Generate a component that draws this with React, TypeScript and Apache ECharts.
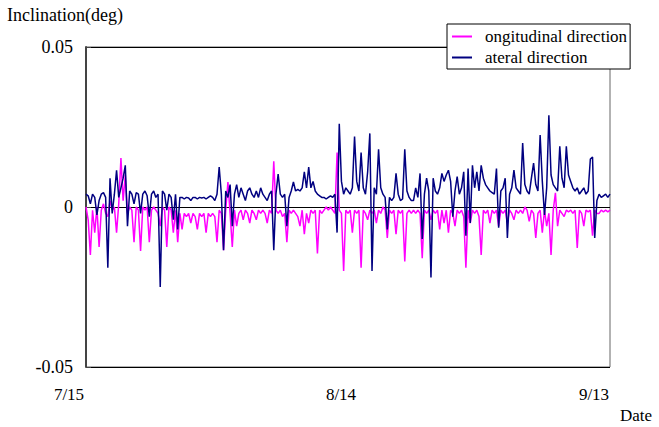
import React, { useEffect, useRef } from "react";
import * as echarts from "echarts";

// 6-hour steps from 7/15 (index 0) to 9/13 (index 240)
const tickLabels: Record<number, string> = { 0: "7/15", 120: "8/14", 240: "9/13" };
const seriesNames = ["ongitudinal direction", "ateral direction"];

// longitudinal direction (magenta), deg
const longitudinal = [
  0, -0.004, -0.015, -0.001, -0.008, 0, -0.0125, -0.001, 0.001, -0.002,
  -0.003, 0.002, -0.001, 0, -0.008, 0.001, 0.0153, 0.002, 0.01, -0.002,
  0, -0.001, -0.011, 0, -0.001, -0.0137, 0, -0.001, 0, -0.011,
  -0.001, 0, -0.001, -0.002, -0.006, 0, -0.001, -0.0125, 0, -0.001,
  -0.008, -0.001, -0.011, -0.002, -0.007, -0.002, -0.003, -0.002, -0.005, -0.002,
  -0.003, -0.007, -0.002, -0.003, -0.002, -0.008, -0.002, -0.003, -0.002, -0.003,
  -0.011, -0.001, -0.002, -0.0135, -0.001, 0.0078, -0.002, -0.0125, -0.001, -0.006,
  -0.002, -0.001, -0.004, -0.001, -0.002, -0.005, -0.001, -0.002, -0.004, -0.001,
  -0.002, -0.001, -0.002, -0.005, -0.001, -0.002, 0.0143, -0.001, -0.002, -0.001,
  -0.003, -0.002, -0.011, -0.001, -0.002, -0.001, -0.002, -0.003, -0.006, -0.001,
  -0.0085, -0.002, -0.005, -0.001, -0.002, -0.001, -0.0145, -0.001, -0.002, -0.001,
  0, -0.001, 0, -0.001, -0.002, 0.017, -0.001, -0.002, -0.02, -0.001,
  -0.002, -0.001, -0.008, -0.001, -0.002, -0.001, -0.019, -0.001, -0.002, -0.004,
  -0.001, -0.002, -0.001, -0.005, -0.001, -0.002, 0, -0.001, -0.0097, -0.001,
  -0.002, -0.001, -0.0085, -0.001, -0.002, -0.001, -0.017, -0.002, -0.001, -0.002,
  -0.001, -0.002, -0.001, -0.002, -0.016, -0.001, -0.002, -0.001, -0.004, -0.001,
  -0.002, -0.001, -0.007, -0.001, -0.005, -0.001, -0.008, -0.001, -0.002, -0.006,
  -0.001, -0.002, -0.001, -0.003, -0.019, -0.001, -0.005, -0.001, -0.002, -0.001,
  -0.003, -0.015, -0.001, -0.002, -0.001, -0.005, -0.001, -0.002, -0.001, -0.006,
  -0.001, -0.002, -0.001, -0.005, -0.001, -0.002, -0.004, -0.001, -0.002, -0.001,
  -0.002, 0, -0.001, -0.0045, -0.001, -0.002, -0.0097, -0.002, -0.001, -0.008,
  -0.001, -0.006, -0.002, -0.015, -0.001, 0.0044, -0.006, -0.001, -0.002, -0.003,
  -0.001, -0.0015, -0.001, -0.002, -0.001, -0.0128, -0.001, -0.002, -0.006, -0.001,
  -0.0015, -0.001, -0.009, -0.001, -0.002, -0.002, -0.001, -0.0015, -0.001, -0.0015,
  -0.001,
];

// lateral direction (navy), deg
const lateral = [
  0.004, 0.0035, 0.001, 0.004, 0.003, -0.0025, 0.002, 0.004, 0.0045, 0.003,
  -0.019, 0.009, -0.002, 0.004, 0.0115, 0.003, 0.006, 0.009, 0.013, -0.006,
  0.005, 0.004, 0.001, 0.0045, 0.004, -0.002, 0.004, 0.005, 0.0035, -0.003,
  0.004, 0.005, 0.003, 0.004, -0.025, 0.005, 0.004, -0.001, 0.004, 0.003,
  -0.004, 0.004, -0.007, 0.003, 0.003, 0.0025, 0.003, 0.0028, 0.002, 0.003,
  0.003, 0.0025, 0.003, 0.0028, 0.003, 0.0025, 0.003, 0.0035, 0.003, 0.002,
  0.004, 0.0125, 0.004, -0.0135, 0.005, 0.003, 0.007, -0.006, 0.004, 0.007,
  0.003, 0.006, 0.004, 0.002, 0.005, 0.006, 0.004, 0.003, 0.005, 0.003,
  0.006, 0.004, 0.003, 0.002, 0.004, 0.005, -0.0135, 0.004, 0.0103, 0.004,
  0.003, 0.004, -0.006, 0.003, 0.005, 0.0078, 0.005, 0.0055, 0.005, 0.006,
  0.011, 0.006, 0.0125, 0.006, 0.008, 0.005, 0.004, 0.0035, 0.003, 0.003,
  0.0025, 0.003, 0.0035, 0.003, 0.004, -0.008, 0.026, 0.008, 0.004, 0.006,
  0.005, 0.004, 0.006, 0.022, 0.008, 0.005, 0.017, 0.006, 0.004, 0.011,
  0.023, -0.02, 0.006, 0.004, 0.018, 0.006, 0.004, 0.003, -0.007, 0.003,
  0.002, 0.003, 0.0105, 0.004, 0.002, 0.0025, 0.018, 0.005, 0.003, 0.002,
  0.002, 0.006, 0.003, 0.0105, -0.01, 0.004, 0.009, 0.005, -0.022, 0.009,
  0.005, 0.004, 0.006, 0.0105, 0.008, 0.01, 0.0115, 0.008, -0.003, 0.005,
  0.0095, 0.004, 0.006, 0.011, -0.009, 0.012, -0.005, 0.013, 0.006, 0.011,
  0.005, 0.013, 0.009, 0.007, 0.006, 0.005, 0.0045, 0.004, 0.012, -0.0065,
  0.005, 0.006, 0.009, -0.0097, 0.004, 0.006, 0.0115, 0.006, 0.005, 0.004,
  0.02, 0.007, 0.005, 0.004, 0.009, 0.0137, 0.007, 0.005, 0.0225, 0.008,
  -0.0025, 0.006, 0.0287, 0.01, 0.007, 0.006, 0.005, 0.019, 0.009, 0.006,
  0.019, 0.01, 0.008, 0.006, 0.005, 0.006, 0.004, 0.005, 0.006, 0.004,
  0.005, 0.015, 0.0156, -0.0097, 0.002, 0.004, 0.003, 0.0035, 0.004, 0.003,
  0.004,
];

const FONT = "'Liberation Serif', 'Times New Roman', serif";

export default function App() {
  const ref = useRef<HTMLDivElement>(null);
  useEffect(() => {
    if (!ref.current) return;
    const chart = echarts.init(ref.current, undefined, { renderer: "svg" });
    const toPairs = (arr: number[]) => arr.map((v, i) => [i, v]);
    chart.setOption({
      animation: false,
      backgroundColor: "#fff",
      title: {
        text: "Inclination(deg)",
        left: 7,
        top: 6,
        padding: 0,
        textStyle: { fontFamily: FONT, fontSize: 18, fontWeight: "normal", color: "#000" },
      },
      legend: {
        data: seriesNames,
        orient: "vertical",
        left: 447,
        top: 24,
        backgroundColor: "#fff",
        borderColor: "#000",
        borderWidth: 1,
        padding: [4, 3, 3, 5],
        itemGap: 4,
        itemWidth: 20,
        itemHeight: 2,
        icon: "rect",
        textStyle: { fontFamily: FONT, fontSize: 17, color: "#000", padding: [0, 0, 0, 8] },
      },
      grid: {
        left: 86,
        right: 49,
        top: 47,
        bottom: 60,
        show: true,
        borderColor: "#666",
        borderWidth: 1,
        backgroundColor: "transparent",
      },
      xAxis: {
        type: "value",
        min: 0,
        max: 240,
        interval: 120,
        name: "{d|Date}",
        nameLocation: "end",
        nameGap: 10,
        nameTextStyle: {
          fontFamily: FONT,
          fontSize: 17,
          color: "#000",
          rich: {
            d: { fontFamily: FONT, fontSize: 17, color: "#000", padding: [96, 0, 0, 0] },
          },
        },
        axisLine: { show: false, onZero: false },
        axisTick: { show: false },
        splitLine: { show: false },
        axisLabel: {
          margin: 19,
          showMinLabel: true,
          showMaxLabel: true,
          fontFamily: FONT,
          fontSize: 17,
          color: "#000",
          formatter: (v: number) => {
            const key = v === 0 ? "a" : v === 120 ? "b" : "c";
            return `{${key}|${tickLabels[v] ?? ""}}`;
          },
          rich: {
            a: { fontFamily: FONT, fontSize: 17, color: "#000", padding: [0, 34, 0, 0] },
            b: { fontFamily: FONT, fontSize: 17, color: "#000", padding: [0, 14, 0, 0] },
            c: { fontFamily: FONT, fontSize: 17, color: "#000", padding: [0, 32, 0, 0] },
          },
        },
      },
      yAxis: {
        type: "value",
        min: -0.05,
        max: 0.05,
        interval: 0.05,
        axisLine: { show: true, lineStyle: { color: "#444", width: 2 } },
        axisTick: { show: true, inside: true, length: 5, lineStyle: { color: "#444" } },
        splitLine: { show: true, lineStyle: { color: "#000", width: 1 } },
        axisLabel: {
          margin: 13,
          fontFamily: FONT,
          fontSize: 18,
          color: "#000",
          formatter: (v: number) => (Math.abs(v) < 1e-9 ? "0" : v.toFixed(2)),
        },
      },
      series: [
        {
          name: seriesNames[0],
          type: "line",
          data: toPairs(longitudinal),
          showSymbol: false,
          color: "#FF00FF",
          lineStyle: { color: "#FF00FF", width: 1.5 },
        },
        {
          name: seriesNames[1],
          type: "line",
          data: toPairs(lateral),
          showSymbol: false,
          color: "#000080",
          lineStyle: { color: "#000080", width: 1.5 },
        },
      ],
    });
    return () => chart.dispose();
  }, []);
  return (
    <div
      ref={ref}
      style={{ position: "fixed", left: 0, top: 0, width: 659, height: 427, background: "#fff" }}
    />
  );
}
